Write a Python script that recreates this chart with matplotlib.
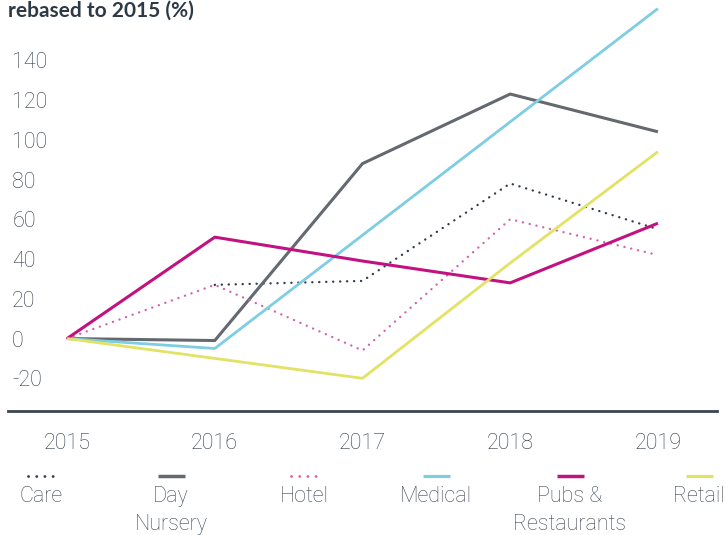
import numpy as np
import matplotlib
matplotlib.use("Agg")
import matplotlib.pyplot as plt
from matplotlib.lines import Line2D

plt.rcParams['font.family'] = ['Roboto', 'DejaVu Sans']

years = [2015, 2016, 2017, 2018, 2019]
care = [np.nan, 27, 29, 78, 55]
day_nursery = [0, -1, 88, 123, 104]
hotel = [0, 27, -6, 60, 42]
medical = [0, -5, 52, 109, 166]
pubs = [0, 51, 39, 28, 58]
retail = [0, -10, -20, 38, 94]

series_names = ["Care", "Day\nNursery", "Hotel", "Medical", "Pubs &\nRestaurants", "Retail"]
series_values = [care, day_nursery, hotel, medical, pubs, retail]
colors = ["#2f3b48", "#646970", "#d163aa", "#7fcde3", "#c2127f", "#e2e264"]
dotted = (0, (0.05, 2.9))
styles = [dotted, "-", dotted, "-", "-", "-"]
widths = [1.7, 2.2, 1.7, 2.0, 2.2, 2.0]
yticks = [-20, 0, 20, 40, 60, 80, 100, 120, 140]

W, H = 725, 535
fig = plt.figure(figsize=(W / 100, H / 100), dpi=100)
ax = fig.add_axes([8 / W, (H - 410.7) / H, (717 - 8) / W, 410.7 / H])

for vals, c, ls, lw in zip(series_values, colors, styles, widths):
    ax.plot(years, vals, color=c, linestyle=ls, linewidth=lw, clip_on=False,
            solid_capstyle='butt', dash_capstyle='round')

ax.set_xlim(2014.60, 2019.40)
ax.set_ylim(-36.3, 170.3)
ax.set_xticks(years)
ax.set_xticklabels([str(y) for y in years])
ax.set_yticks(yticks)
ax.set_yticklabels([str(v) for v in yticks])

for s in ['left', 'right', 'top']:
    ax.spines[s].set_visible(False)
ax.spines['bottom'].set_color('#3a4550')
ax.spines['bottom'].set_linewidth(2.0)

tick_color = '#2f3a45'
ax.tick_params(axis='y', length=0, pad=-3, labelsize=15.5, labelcolor=tick_color)
ax.tick_params(axis='x', length=0, pad=16, labelsize=15.5, labelcolor=tick_color)
for lab in ax.get_yticklabels():
    lab.set_horizontalalignment('left')
    lab.set_fontweight('light')
for lab in ax.get_xticklabels():
    lab.set_fontweight('light')

fig.text(8 / W, 1 - 17 / H, "rebased to 2015 (%)", fontsize=15, fontweight='bold',
         family=['Lato', 'DejaVu Sans'], color='#2d3a45', ha='left', va='baseline')

# Legend (manual: sample line above centred label)
centers = [41, 171, 304, 436, 570, 699]
for name, c, ls, lw, cx in zip(series_names, colors, styles, widths, centers):
    x0, x1 = (cx - 13.5) / W, (cx + 13.5) / W
    yy = 1 - 476 / H
    fig.add_artist(Line2D([x0, x1], [yy, yy], transform=fig.transFigure, color=c,
                          linestyle=ls, linewidth=lw + 0.3, solid_capstyle='butt',
                          dash_capstyle='round'))
    fig.text(cx / W, 1 - 486 / H, name, ha='center', va='top', fontsize=15.5,
             fontweight='light', color='#3e4954', linespacing=1.45)

fig.savefig("out.png", dpi=100)
